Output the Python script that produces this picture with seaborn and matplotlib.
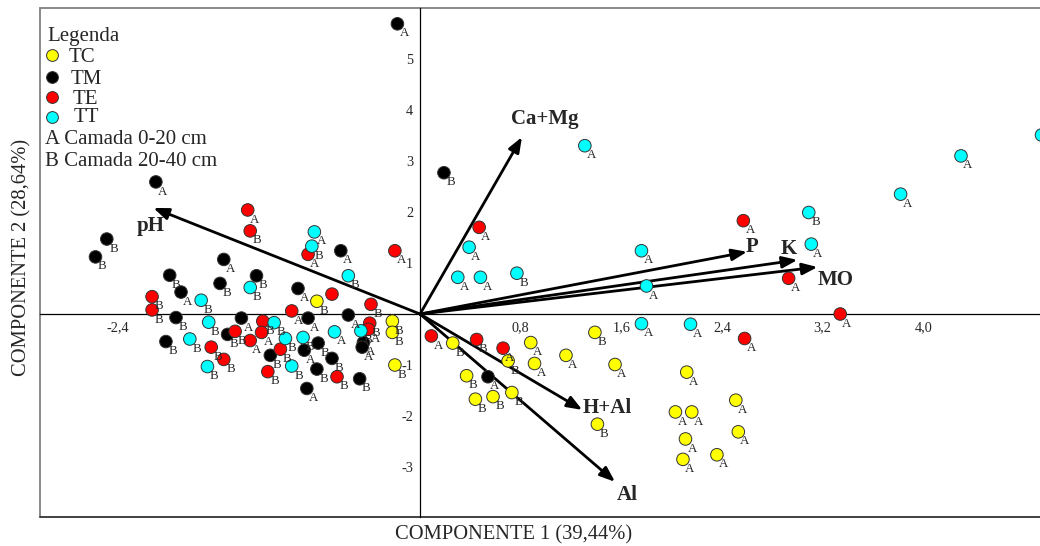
import numpy as np
import pandas as pd
import seaborn as sns
import matplotlib.pyplot as plt
from matplotlib.lines import Line2D

# escores da PCA por tratamento (CP1, CP2) e camada de cada amostra
tc_x = [-0.82, -0.22, -0.22, -0.20, 0.26, 0.70, 0.88, 0.91, 1.16, 1.39, 1.55, 0.37,
        0.44, 0.58, 0.73, 1.41, 2.12, 2.51, 2.03, 2.16, 2.53, 2.11, 2.09, 2.36]
tc_y = [0.25, -0.14, -0.36, -1.00, -0.57, -0.92, -0.56, -0.97, -0.81, -0.36, -0.99, -1.21,
        -1.67, -1.62, -1.54, -2.16, -1.14, -1.69, -1.92, -1.92, -2.31, -2.45, -2.85, -2.76]
tc_cam = list("BBBBBBAAABABBBBBAAAAAAAA")

tm_x = [-2.10, -2.49, -2.58, -1.56, -1.99, -1.59, -1.90, -1.94, -1.53, -2.02, -1.30, -0.97,
        -0.63, -0.89, -0.57, -1.42, -0.45, -0.46, -0.81, -0.92, -0.70, -1.19, -0.82, -0.48,
        -0.90, -0.18, 0.19, 0.54]
tm_y = [2.59, 1.47, 1.12, 1.07, 0.76, 0.60, 0.43, -0.07, -0.40, -0.54, 0.75, 0.50,
        1.24, -0.08, -0.02, -0.08, -0.56, -0.65, -0.57, -0.71, -0.87, -0.81, -1.08, -1.27,
        -1.46, 5.69, 2.77, -1.23]
tm_cam = list("ABBABBABBBBAAAAAAABABBBBAABA")

te_x = [-2.13, -2.13, -1.47, -1.66, -1.56, -1.37, -1.35, -0.89, -0.20, -0.70, -0.39, -1.02,
        -1.25, -1.26, -1.35, -1.11, -1.21, -0.66, -0.40, -0.41, 0.47, 0.09, 0.45, 0.66,
        2.57, 2.93, 3.34, 2.58]
te_y = [0.34, 0.08, -0.34, -0.65, -0.89, 2.04, 1.63, 1.17, 1.24, 0.39, 0.19, 0.06,
        -0.14, -0.36, -0.52, -0.69, -1.13, -1.23, -0.18, -0.30, 1.70, -0.43, -0.50, -0.67,
        1.83, 0.70, 0.00, -0.48]
te_cam = ["B", "B", "B", "B", "B", "A", "B", "A", "A", "", "B", "A",
          "B", "A", "A", "B", "B", "B", "B", "A", "A", "A", "B", "A",
          "A", "A", "A", "A"]

tt_x = [-1.74, -1.68, -1.83, -1.69, -0.84, -0.86, -0.57, -1.35, -1.16, -1.07, -0.93, -0.68,
        -0.47, -1.02, 0.39, 0.30, 0.48, 0.77, 1.76, 1.80, 1.76, 2.15, 1.31, 3.09,
        3.11, 3.82, 4.30, 4.94]
tt_y = [0.27, -0.16, -0.49, -1.03, 1.61, 1.33, 0.75, 0.52, -0.17, -0.48, -0.46, -0.35,
        -0.33, -1.02, 1.31, 0.72, 0.72, 0.80, 1.24, 0.55, -0.19, -0.20, 3.30, 1.99,
        1.37, 2.35, 3.10, 3.51]
tt_cam = list("BBBBABBBBBBABBAAABAAAAABAAAA")

# vetores das variaveis
variaveis = ["pH", "Ca+Mg", "P", "K", "MO", "H+Al", "Al"]
load_x = [-2.12, 0.81, 2.60, 3.00, 3.16, 1.29, 1.55]
load_y = [2.08, 3.47, 1.22, 1.06, 0.92, -1.88, -3.29]
rot_x = [-2.14, 0.99, 2.64, 2.93, 3.30, 1.49, 1.65]
rot_y = [1.73, 3.82, 1.32, 1.27, 0.67, -1.85, -3.55]

tratamentos = ["TC", "TM", "TE", "TT"]
cores = {"TC": "#ffff00", "TM": "#000000", "TE": "#ff0000", "TT": "#00ffff"}

df = pd.concat([
    pd.DataFrame({"cp1": tc_x, "cp2": tc_y, "camada": tc_cam, "trat": "TC"}),
    pd.DataFrame({"cp1": tm_x, "cp2": tm_y, "camada": tm_cam, "trat": "TM"}),
    pd.DataFrame({"cp1": te_x, "cp2": te_y, "camada": te_cam, "trat": "TE"}),
    pd.DataFrame({"cp1": tt_x, "cp2": tt_y, "camada": tt_cam, "trat": "TT"}),
], ignore_index=True)

sns.set_style("white")
plt.rcParams["font.family"] = ["Liberation Serif", "DejaVu Serif"]

W, H = 1040, 546
fig = plt.figure(figsize=(W / 100, H / 100), dpi=100)
ax = fig.add_axes([40 / W, 29 / H, 1021.5 / W, 509 / H])

sns.scatterplot(data=df, x="cp1", y="cp2", hue="trat", palette=cores, s=82,
                edgecolor="#333333", linewidth=0.7, legend=False, ax=ax, zorder=3)

for r in df.itertuples():
    ax.annotate(r.camada, (r.cp1, r.cp2), xytext=(4.8, -6.9), textcoords="offset points",
                ha="center", va="center", fontsize=9.3, zorder=4)

for nome, lx, ly, tx, ty in zip(variaveis, load_x, load_y, rot_x, rot_y):
    ax.annotate("", xy=(lx, ly), xytext=(0, 0),
                arrowprops=dict(arrowstyle="-|>,head_length=0.65,head_width=0.25",
                                mutation_scale=14, color="black", lw=2,
                                shrinkA=0, shrinkB=0), zorder=2)
    ax.text(tx, ty, nome, ha="center", va="center", fontsize=15, fontweight="bold", zorder=5)

ax.set_xlim(-3.021, 5.099)
ax.set_ylim(-3.98, 6.0)
ax.set_xlabel("")
ax.set_ylabel("")

# eixos cruzando na origem
for s in ["top", "right"]:
    ax.spines[s].set_visible(False)
for s in ["left", "bottom"]:
    ax.spines[s].set_position(("data", 0))
    ax.spines[s].set_color("black")
    ax.spines[s].set_linewidth(0.9)

ax.set_xticks([-2.4, -1.6, -0.8, 0.8, 1.6, 2.4, 3.2, 4.0])
ax.set_xticklabels(["-2,4", "", "", "0,8", "1,6", "2,4", "3,2", "4,0"])
ax.set_yticks([-3, -2, -1, 1, 2, 3, 4, 5])
ax.set_yticklabels(["-3", "-2", "-1", "1", "2", "3", "4", "5"])
ax.tick_params(axis="x", direction="out", length=4, width=0.8, pad=1.5, labelsize=10.3)
ax.tick_params(axis="y", direction="out", length=4, width=0.8, pad=1, labelsize=10.3)

# moldura
ax.plot([0, 0], [0, 1], transform=ax.transAxes, color="#808080", lw=1.3, clip_on=False)
ax.plot([0, 1], [1, 1], transform=ax.transAxes, color="#808080", lw=1.3, clip_on=False)
ax.plot([0, 1], [0, 0], transform=ax.transAxes, color="#333333", lw=1.3, clip_on=False)

fig.text(514 / W, 1 - 535 / H, "COMPONENTE 1 (39,44%)", ha="center", va="center", fontsize=14.8)
fig.text(22 / W, 1 - 257 / H, "COMPONENTE 2 (28,64%)", ha="center", va="center",
         rotation=90, fontsize=14.8)

# legenda
fig.text(47 / W, 1 - 40.5 / H, "Legenda", ha="left", va="baseline", fontsize=15)
leg_y = [55, 77, 97, 116.5]
leg_base = [62.5, 83.5, 104, 122]
leg_tx = [69, 71, 73, 74]
for t, my, by, tx in zip(tratamentos, leg_y, leg_base, leg_tx):
    fig.add_artist(Line2D([52 / W], [1 - my / H], marker="o", markersize=8.5, linestyle="",
                          markerfacecolor=cores[t], markeredgecolor="#333333",
                          markeredgewidth=0.7, transform=fig.transFigure))
    fig.text(tx / W, 1 - by / H, t, ha="left", va="baseline", fontsize=15)
fig.text(45 / W, 1 - 143.5 / H, "A Camada 0-20 cm", ha="left", va="baseline", fontsize=15)
fig.text(45 / W, 1 - 165.5 / H, "B Camada 20-40 cm", ha="left", va="baseline", fontsize=15)

fig.savefig("out.png", dpi=100)
